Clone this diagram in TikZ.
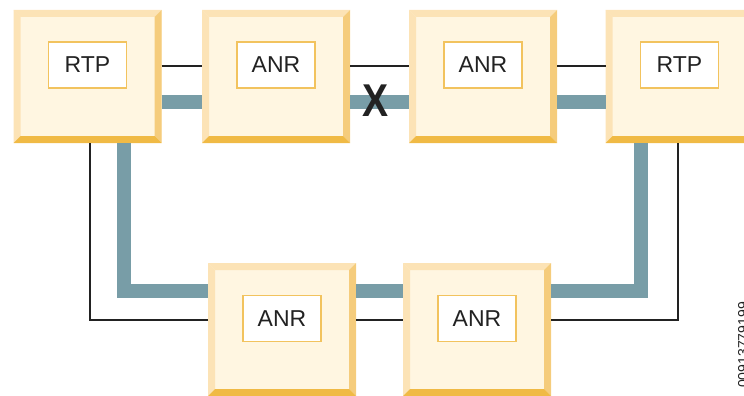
\documentclass[tikz,border=0pt]{standalone}
\usepackage{fontspec}
\setmainfont{Liberation Sans}
\usetikzlibrary{calc}
\definecolor{face}{HTML}{FFF6E1}
\definecolor{bevlight}{HTML}{FCE3B6}
\definecolor{bevright}{HTML}{F5CC7C}
\definecolor{bevbottom}{HTML}{F0BA45}
\definecolor{lblborder}{HTML}{F2C35E}
\definecolor{tealband}{HTML}{789DA7}
\definecolor{ink}{HTML}{222222}
\tikzset{
  unitbox/.style={minimum width=148pt, minimum height=133pt, inner sep=0pt, outer sep=0pt, fill=face,
    path picture={
      \coordinate (pnw) at (path picture bounding box.north west);
      \coordinate (pne) at (path picture bounding box.north east);
      \coordinate (psw) at (path picture bounding box.south west);
      \coordinate (pse) at (path picture bounding box.south east);
      \fill[bevlight] (pnw) -- (pne) -- ([shift={(-7pt,-7pt)}]pne) -- ([shift={(7pt,-7pt)}]pnw) -- cycle;
      \fill[bevlight] (pnw) -- (psw) -- ([shift={(7pt,7pt)}]psw) -- ([shift={(7pt,-7pt)}]pnw) -- cycle;
      \fill[bevright] (pne) -- (pse) -- ([shift={(-7pt,7pt)}]pse) -- ([shift={(-7pt,-7pt)}]pne) -- cycle;
      \fill[bevbottom] (psw) -- (pse) -- ([shift={(-7pt,7pt)}]pse) -- ([shift={(7pt,7pt)}]psw) -- cycle;
    }},
  lbl/.style={draw=lblborder, line width=1.2pt, fill=white, minimum width=78pt, minimum height=46pt,
    inner sep=0pt, text=ink, font=\fontsize{23}{26}\selectfont},
  thinlink/.style={draw=ink, line width=1.6pt, line cap=butt},
  bandlink/.style={draw=tealband, line width=14pt, line cap=butt, line join=miter},
}
\begin{document}
\begin{tikzpicture}[x=1pt,y=-1pt]
\clip (0,0) rectangle (744,396);
% boxes
\node[unitbox] (b1) at (87.5,76.5) {};
\node[unitbox] (b2) at (276,76.5) {};
\node[unitbox] (b3) at (483,76.5) {};
\node[unitbox] (b4) at (679.5,76.5) {};
\node[unitbox] (b5) at (282,329.5) {};
\node[unitbox] (b6) at (477,329.5) {};
% labels
\node[lbl] (l1) at ([yshift=11.5pt]b1.center) {RTP};
\node[lbl] (l2) at ([yshift=11.5pt]b2.center) {ANR};
\node[lbl] (l3) at ([yshift=11.5pt]b3.center) {ANR};
\node[lbl] (l4) at ([yshift=11.5pt]b4.center) {RTP};
\node[lbl] (l5) at ([yshift=11pt]b5.center) {ANR};
\node[lbl] (l6) at ([yshift=11pt]b6.center) {ANR};
% top row connectors
\draw[thinlink] ([yshift=10.5pt]b1.east) -- ([yshift=10.5pt]b2.west);
\draw[thinlink] ([yshift=10.5pt]b2.east) -- ([yshift=10.5pt]b3.west);
\draw[thinlink] ([yshift=10.5pt]b3.east) -- ([yshift=10.5pt]b4.west);
\draw[bandlink] ([yshift=-25pt]b1.east) -- ([yshift=-25pt]b2.west);
\draw[bandlink] ([yshift=-25pt]b2.east) -- ([yshift=-25pt]b3.west);
\draw[bandlink] ([yshift=-25pt]b3.east) -- ([yshift=-25pt]b4.west);
% bottom row connectors
\draw[thinlink] ([yshift=9.5pt]b5.east) -- ([yshift=9.5pt]b6.west);
\draw[bandlink] ([yshift=38.5pt]b5.east) -- ([yshift=38.5pt]b6.west);
% left loop
\draw[bandlink] ([xshift=36pt]b1.south) |- ([yshift=38.5pt]b5.west);
\draw[thinlink] ([xshift=2.5pt]b1.south) |- ([yshift=9.5pt]b5.west);
% right loop
\draw[bandlink] ([yshift=38.5pt]b6.east) -| ([xshift=-39pt]b4.south);
\draw[thinlink] ([yshift=9.5pt]b6.east) -| ([xshift=-1.5pt]b4.south);
% break mark
\node[inner sep=0pt, text=ink, font=\bfseries\fontsize{46}{46}\selectfont, xscale=0.85]
  (brk) at ([xshift=-4pt,yshift=-24pt]$(b2.east)!0.5!(b3.west)$) {X};
% figure id
\node[rotate=90, anchor=north west, inner sep=0pt, text=ink, font=\fontsize{14}{16}\selectfont]
  (figid) at (738,388) {00913779199};
\end{tikzpicture}
\end{document}
